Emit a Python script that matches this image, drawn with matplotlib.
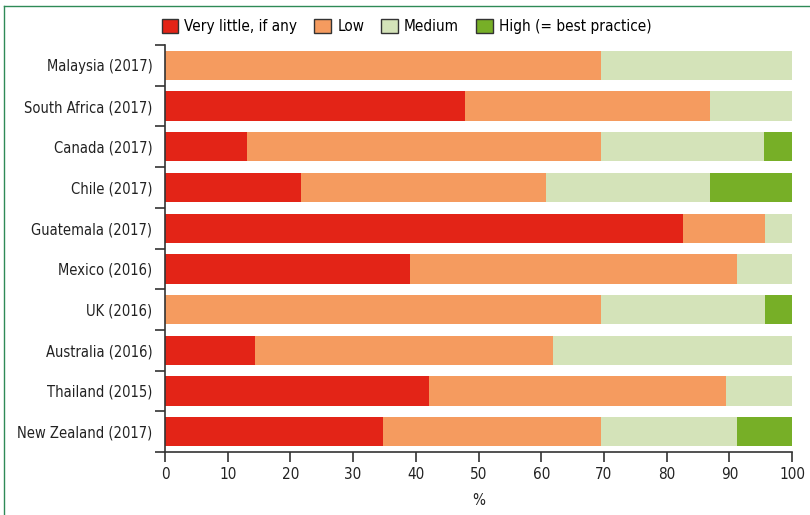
import matplotlib
matplotlib.use("Agg")
import matplotlib.pyplot as plt
from matplotlib.lines import Line2D
import numpy as np

plt.rcParams['font.family'] = ['DejaVu Sans']
plt.rcParams['font.stretch'] = 'condensed'

countries = ["Malaysia (2017)", "South Africa (2017)", "Canada (2017)", "Chile (2017)",
             "Guatemala (2017)", "Mexico (2016)", "UK (2016)", "Australia (2016)",
             "Thailand (2015)", "New Zealand (2017)"]
very_little = [0.0, 47.8, 13.0, 21.7, 82.6, 39.1, 0.0, 14.3, 42.1, 34.8]
low = [69.6, 39.1, 56.5, 39.1, 13.1, 52.2, 69.6, 47.6, 47.4, 34.8]
medium = [30.4, 13.1, 26.1, 26.1, 4.3, 8.7, 26.1, 38.1, 10.5, 21.7]
high = [0.0, 0.0, 4.4, 13.1, 0.0, 0.0, 4.3, 0.0, 0.0, 8.7]

series_names = ["Very little, if any", "Low", "Medium", "High (= best practice)"]
colors = ["#E32417", "#F59B5F", "#D4E3B9", "#77AF27"]
xticks = [0, 10, 20, 30, 40, 50, 60, 70, 80, 90, 100]

fig = plt.figure(figsize=(8.1, 5.15), dpi=100)
ax = fig.add_axes([0.2037, 0.1223, 0.7741, 0.7903])

y = np.arange(len(countries))
left = np.zeros(len(countries))
for vals, name, c in zip([very_little, low, medium, high], series_names, colors):
    ax.barh(y, vals, left=left, height=0.72, color=c, label=name, edgecolor='none')
    left = left + np.array(vals)

ax.set_xlim(0, 100)
ax.set_ylim(len(countries) - 0.5, -0.5)
ax.set_yticks(y)
ax.set_yticklabels(countries, fontsize=10.5, color='#222222')
ax.set_yticks(np.arange(-0.5, len(countries) + 0.5, 1), minor=True)
ax.tick_params(axis='y', which='major', length=0, pad=9)
ax.tick_params(axis='y', which='minor', length=7, width=1.2, color='#333333')
ax.set_xticks(xticks)
ax.set_xticklabels([str(t) for t in xticks], fontsize=11, color='#222222')
ax.tick_params(axis='x', length=7, width=1.2, color='#333333', pad=4)
ax.set_xlabel("%", fontsize=11, color='#222222', labelpad=8)
for s in ['top', 'right']:
    ax.spines[s].set_visible(False)
for s in ['left', 'bottom']:
    ax.spines[s].set_linewidth(1.2)
    ax.spines[s].set_color('#333333')

leg = ax.legend(loc='lower center', bbox_to_anchor=(0.385, 1.0), ncol=4, frameon=False,
                fontsize=11, handlelength=1.1, handleheight=1.1, handletextpad=0.4,
                columnspacing=1.1, borderaxespad=0.3)
for h in leg.legend_handles:
    h.set_edgecolor('#333333')
    h.set_linewidth(1.0)

fig.add_artist(Line2D([0.005, 0.005], [0, 0.988], transform=fig.transFigure,
                      color='#2F8A57', lw=1))
fig.add_artist(Line2D([0.005, 1.0], [0.988, 0.988], transform=fig.transFigure,
                      color='#2F8A57', lw=1))

fig.savefig("out.png", dpi=100)
